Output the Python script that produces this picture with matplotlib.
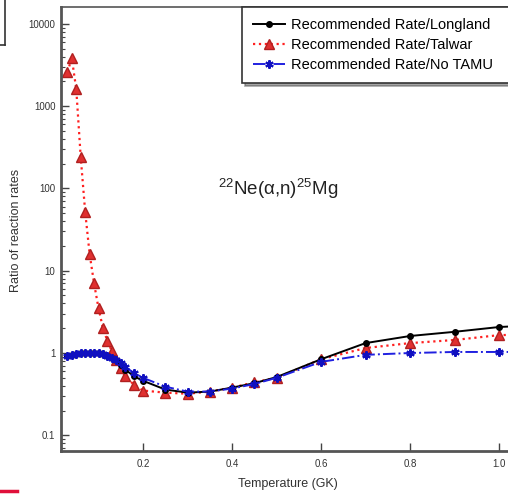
import matplotlib
matplotlib.use("Agg")
import matplotlib.pyplot as plt
from matplotlib.lines import Line2D
from matplotlib.ticker import FixedLocator, NullFormatter, LogLocator

plt.rcParams['font.family'] = ['Liberation Sans', 'DejaVu Sans']
plt.rcParams['mathtext.fontset'] = 'custom'
plt.rcParams['mathtext.rm'] = 'Liberation Sans'
plt.rcParams['mathtext.it'] = 'Liberation Sans:italic'

# temperature grid (GK)
temps = [0.03, 0.04, 0.05, 0.06, 0.07, 0.08, 0.09, 0.10, 0.11, 0.12, 0.13,
         0.14, 0.15, 0.16, 0.18, 0.20, 0.25, 0.30, 0.35, 0.40, 0.45, 0.50,
         0.60, 0.70, 0.80, 0.90, 1.00, 1.25]

ratio_longland = [0.93, 0.95, 0.97, 0.99, 1.00, 1.00, 1.00, 0.99, 0.97, 0.93,
                  0.88, 0.82, 0.72, 0.63, 0.52, 0.46, 0.36, 0.33, 0.34, 0.38,
                  0.43, 0.51, 0.84, 1.32, 1.61, 1.81, 2.07, 2.40]
ratio_talwar = [2600, 3800, 1600, 240, 52, 16, 7.0, 3.5, 2.0, 1.4, 1.05,
                0.82, 0.65, 0.52, 0.41, 0.35, 0.33, 0.32, 0.34, 0.38,
                0.44, 0.50, 0.84, 1.15, 1.32, 1.44, 1.65, 1.75]
ratio_notamu = [0.93, 0.95, 0.97, 0.99, 1.00, 1.00, 1.00, 0.99, 0.97, 0.93,
                0.88, 0.83, 0.76, 0.68, 0.57, 0.50, 0.39, 0.34, 0.34, 0.37,
                0.42, 0.50, 0.78, 0.95, 1.00, 1.03, 1.03, 1.03]

labels = ["Recommended Rate/Longland", "Recommended Rate/Talwar",
          "Recommended Rate/No TAMU"]

y_ticks = [0.1, 1, 10, 100, 1000, 10000]
y_ticklabels = ["0.1", "1", "10", "100", "1000", "10000"]
x_ticks = [0.2, 0.4, 0.6, 0.8, 1.0]
x_ticklabels = ["0.2", "0.4", "0.6", "0.8", "1.0"]

fig = plt.figure(figsize=(5.08, 4.94), dpi=100)
ax = fig.add_axes([61 / 508, 43 / 494, 451 / 508, 444 / 494])

ax.plot(temps, ratio_longland, color='black', lw=1.4, ls='-',
        marker='o', ms=4, mfc='black', mec='black', label=labels[0], zorder=3)
ax.plot(temps, ratio_talwar, color='#ff2020', lw=1.6, ls=':',
        marker='^', ms=6.5, mfc='#e03030', mec='#b02020', label=labels[1], zorder=2)
ax.plot(temps, ratio_notamu, color='#2020e0', lw=1.4, ls='-.',
        marker=(6, 2, 0), ms=6, mfc='#2020e0', mec='#1010c0', mew=1.5,
        label=labels[2], zorder=4)

ax.set_yscale('log')
ax.set_xlim(0.0157, 1.029)
ax.set_ylim(0.0645, 16000)

ax.yaxis.set_major_locator(FixedLocator(y_ticks))
ax.set_yticklabels(y_ticklabels)
ax.yaxis.set_minor_locator(LogLocator(base=10, subs=range(2, 10), numticks=20))
ax.yaxis.set_minor_formatter(NullFormatter())
ax.set_xticks(x_ticks)
ax.set_xticklabels(x_ticklabels)

ax.tick_params(axis='both', which='major', direction='in', length=6,
               width=1, labelsize=7, colors='#444444', labelcolor='#333333')
ax.tick_params(axis='y', which='minor', direction='in', length=3,
               width=0.8, colors='#444444')
ax.tick_params(axis='x', pad=6)
ax.tick_params(axis='y', pad=4)

for side in ['left', 'bottom']:
    ax.spines[side].set_linewidth(2)
    ax.spines[side].set_color('#555555')
ax.spines['top'].set_linewidth(1.2)
ax.spines['top'].set_color('#555555')
ax.spines['right'].set_visible(False)

ax.set_xlabel("Temperature (GK)", fontsize=9, color='#333333')
ax.set_ylabel("Ratio of reaction rates", fontsize=9, color='#333333')
ax.xaxis.set_label_coords((288 - 61) / 451, -27 / 444)
ax.yaxis.set_label_coords((22 - 61) / 451, (451 - 230) / 444)

fig.text(278 / 508, 1 - 189 / 494, r"$^{22}$Ne(α,n)$^{25}$Mg",
         fontsize=13.5, ha='center', va='center', color='#222222')

# legend box runs past the right edge, as in the cropped original
leg = ax.legend(loc='upper left',
                bbox_to_anchor=(242 / 508, 0, 275 / 508, 1 - 7 / 494),
                bbox_transform=fig.transFigure, mode='expand',
                frameon=True, fancybox=False,
                shadow=True, fontsize=10.5, handlelength=2.2, handletextpad=0.4,
                borderpad=0.75, labelspacing=0.42, borderaxespad=0)
leg.get_frame().set_edgecolor('#333333')
leg.get_frame().set_linewidth(1.2)
leg.set_zorder(10)

# cropped page fragments around the figure
fig.add_artist(Line2D([5 / 508, 5 / 508], [1, 1 - 45 / 494],
                      color='#333333', lw=1.2))
fig.add_artist(Line2D([0, 5 / 508], [1 - 45 / 494, 1 - 45 / 494],
                      color='#333333', lw=1.2))
fig.add_artist(Line2D([0, 17 / 508], [1 - 491 / 494, 1 - 491 / 494],
                      color='#e0103a', lw=2.5))

fig.savefig("out.png", dpi=100)
